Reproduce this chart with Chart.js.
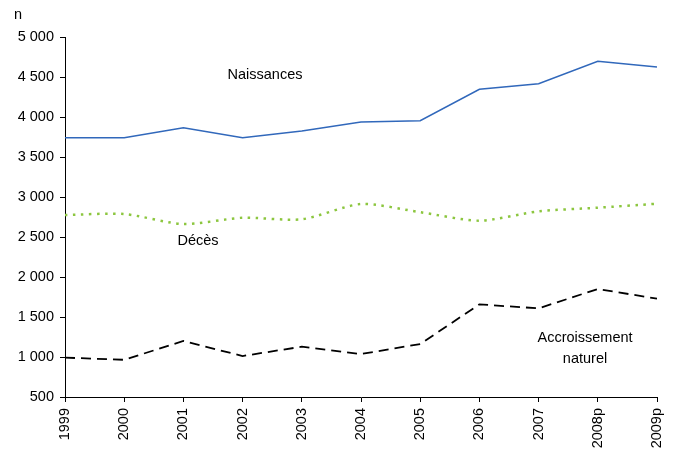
<!DOCTYPE html>
<html>
<head>
<meta charset="utf-8">
<script src="https://cdn.jsdelivr.net/npm/chart.js@4"></script>
<style>
  html, body { margin: 0; padding: 0; background: #fff; }
  #wrap { width: 674px; height: 451px; position: relative; }
</style>
</head>
<body>
<div id="wrap"><canvas id="popChart" width="674" height="451"></canvas></div>
<script>
const years = ['1999', '2000', '2001', '2002', '2003', '2004', '2005', '2006', '2007', '2008p', '2009p'];
const naissances = [3741, 3741, 3866, 3741, 3825, 3937, 3954, 4346, 4416, 4696, 4625];
const deces = [2775, 2787, 2662, 2741, 2721, 2912, 2810, 2704, 2821, 2866, 2916];
const accroissement = [992, 965, 1200, 1012, 1129, 1037, 1162, 1658, 1608, 1850, 1729];

const FONT = 'Liberation Sans, Arial, sans-serif';

// series names written beside the curves, plus the unit "n" above the axis
const labelsPlugin = {
  id: 'seriesLabels',
  afterDraw(chart) {
    const ctx = chart.ctx;
    ctx.save();
    ctx.fillStyle = '#000';
    ctx.font = '14.5px ' + FONT;
    ctx.textAlign = 'center';
    ctx.textBaseline = 'middle';
    ctx.fillText('n', 18, 15);
    ctx.fillText('Naissances', 265, 75);
    ctx.fillText('Décès', 198, 241);
    ctx.fillText('Accroissement', 585, 338);
    ctx.fillText('naturel', 585, 359);
    ctx.restore();
  }
};

const ctx = document.getElementById('popChart').getContext('2d');
new Chart(ctx, {
  type: 'line',
  data: {
    labels: years,
    datasets: [{
      label: 'Naissances',
      data: naissances,
      borderColor: '#3168bb',
      borderWidth: 1.6,
      pointRadius: 0,
      tension: 0
    }, {
      label: 'Décès',
      data: deces,
      borderColor: '#8cc63f',
      borderWidth: 2.5,
      borderDash: [2.5, 5.5],
      pointRadius: 0,
      tension: 0.25
    }, {
      label: 'Accroissement naturel',
      data: accroissement,
      borderColor: '#000',
      borderWidth: 1.8,
      borderDash: [10, 6],
      pointRadius: 0,
      tension: 0
    }]
  },
  options: {
    responsive: false,
    animation: false,
    layout: { padding: { top: 37, right: 17, left: 0, bottom: 0 } },
    plugins: {
      legend: { display: false },
      tooltip: { enabled: false }
    },
    scales: {
      x: {
        offset: false,
        border: { display: true, color: '#000', width: 1 },
        grid: { display: true, drawOnChartArea: false, drawTicks: true, tickLength: 5, color: '#000' },
        ticks: {
          color: '#000',
          font: { family: FONT, size: 14.5 },
          minRotation: 90,
          maxRotation: 90,
          autoSkip: false,
          padding: 6
        },
        afterFit(scale) {
          scale.height = 54;
          scale.paddingLeft = 0;
          scale.paddingRight = 0;
        }
      },
      y: {
        min: 500,
        max: 5000,
        border: { display: true, color: '#000', width: 1 },
        grid: { display: true, drawOnChartArea: false, drawTicks: true, tickLength: 5, color: '#000' },
        ticks: {
          stepSize: 500,
          color: '#000',
          font: { family: FONT, size: 14.5 },
          padding: 6,
          callback: v => String(v).replace(/\B(?=(\d{3})+(?!\d))/g, ' ')
        },
        afterFit(scale) {
          scale.width = 65;
          scale.paddingTop = 0;
          scale.paddingBottom = 0;
        }
      }
    }
  },
  plugins: [labelsPlugin]
});
</script>
</body>
</html>
